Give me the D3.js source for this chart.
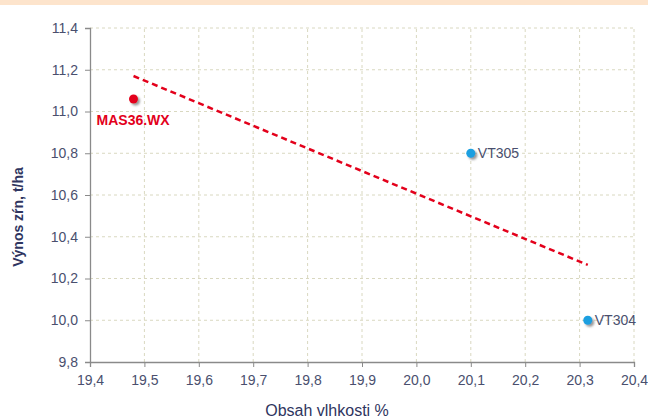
<!DOCTYPE html>
<html>
<head>
<meta charset="utf-8">
<script src="https://cdn.jsdelivr.net/npm/d3@7"></script>
<style>
  body { margin: 0; background: #fff; }
  svg { display: block; font-family: "Liberation Sans", Arial, sans-serif; }
</style>
</head>
<body>
<svg width="648" height="420"></svg>
<script>
// data
const names = ["MAS36.WX", "VT305", "VT304"];
const moisture = [19.48, 20.10, 20.315];
const yieldVals = [11.06, 10.80, 10.00];
const trendX = [19.48, 20.315];
const trendY = [11.17, 10.265];
const xTicks = [19.4, 19.5, 19.6, 19.7, 19.8, 19.9, 20.0, 20.1, 20.2, 20.3, 20.4];
const yTicks = [9.8, 10.0, 10.2, 10.4, 10.6, 10.8, 11.0, 11.2, 11.4];

const svg = d3.select("svg"),
      width = +svg.attr("width"),
      height = +svg.attr("height");

const margin = {left: 90, right: 14, top: 28, bottom: 58};
const x = d3.scaleLinear().domain([19.4, 20.4]).range([margin.left, width - margin.right]);
const y = d3.scaleLinear().domain([9.8, 11.4]).range([height - margin.bottom, margin.top]);
const fmt = d => d.toFixed(1).replace(".", ",");

// top band
svg.append("rect").attr("x", 0).attr("y", 0).attr("width", width).attr("height", 5)
  .attr("fill", "#fde4cc");

// grid
const grid = svg.append("g").attr("stroke", "#d9d8c0").attr("stroke-dasharray", "3,3");
grid.selectAll(".gx").data(xTicks.slice(1)).enter().append("line")
  .attr("x1", d => x(d)).attr("x2", d => x(d))
  .attr("y1", y(9.8)).attr("y2", y(11.4));
grid.selectAll(".gy").data(yTicks.slice(1)).enter().append("line")
  .attr("x1", x(19.4)).attr("x2", x(20.4))
  .attr("y1", d => y(d)).attr("y2", d => y(d));

// axes
const xAxis = svg.append("g").attr("transform", `translate(0,${y(9.8)})`)
  .call(d3.axisBottom(x).tickValues(xTicks).tickFormat(fmt).tickSize(5).tickPadding(8));
const yAxis = svg.append("g").attr("transform", `translate(${x(19.4)},0)`)
  .call(d3.axisLeft(y).tickValues(yTicks).tickFormat(fmt).tickSize(5).tickPadding(7));
[xAxis, yAxis].forEach(a => {
  a.select(".domain").attr("stroke", "#8a8a8a").attr("stroke-width", 1.3);
  a.selectAll(".tick line").attr("stroke", "#8a8a8a");
  a.selectAll("text").attr("fill", "#4a4f6e").style("font-size", "14px");
});

// trend line
svg.append("line")
  .attr("x1", x(trendX[0])).attr("y1", y(trendY[0]))
  .attr("x2", x(trendX[1])).attr("y2", y(trendY[1]))
  .attr("stroke", "#e3001b").attr("stroke-width", 2.5)
  .attr("stroke-dasharray", "6,4");

// points with shadow
const defs = svg.append("defs");
const f = defs.append("filter").attr("id", "sh").attr("x", "-50%").attr("y", "-50%")
  .attr("width", "200%").attr("height", "200%");
f.append("feDropShadow").attr("dx", 2).attr("dy", 2).attr("stdDeviation", 1.2)
  .attr("flood-color", "#555").attr("flood-opacity", 0.6);

const pts = names.map((n, i) => ({name: n, x: moisture[i], y: yieldVals[i]}));
svg.selectAll(".pt").data(pts).enter().append("circle")
  .attr("cx", d => x(d.x)).attr("cy", d => y(d.y)).attr("r", 4.5)
  .attr("fill", (d, i) => i === 0 ? "#e3001b" : "#1a9fe0")
  .attr("filter", "url(#sh)");

// labels
svg.append("text").attr("x", x(moisture[0]) - 37).attr("y", y(yieldVals[0]) + 26)
  .attr("fill", "#e3001b").style("font-size", "14px").style("font-weight", "bold")
  .text(names[0]);
svg.selectAll(".lbl").data(pts.slice(1)).enter().append("text")
  .attr("x", d => x(d.x) + 7).attr("y", d => y(d.y) + 5)
  .attr("fill", "#4a4f6e").style("font-size", "14px")
  .text(d => d.name);

// axis titles
svg.append("text").attr("x", 327).attr("y", 416)
  .attr("text-anchor", "middle").attr("fill", "#2f3560").style("font-size", "16px")
  .text("Obsah vlhkosti %");
svg.append("text").attr("transform", "translate(23,217) rotate(-90)")
  .attr("text-anchor", "middle").attr("fill", "#2f3560")
  .style("font-size", "14px").style("font-weight", "bold")
  .text("Výnos zŕn, t/ha");
</script>
</body>
</html>
